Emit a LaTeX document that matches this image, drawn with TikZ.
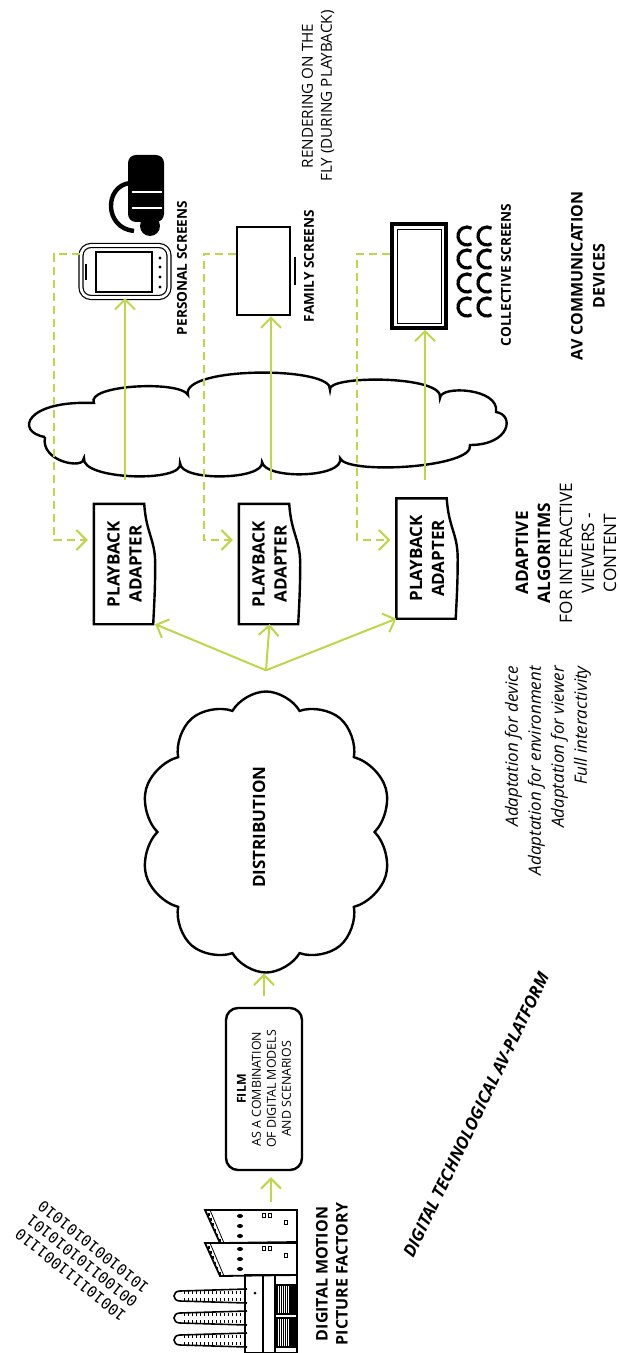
\documentclass[tikz,border=0pt]{standalone}
\usepackage{fontspec}
\setmainfont{Open Sans}
\newfontfamily\binfont{DejaVu Sans Mono}
\usetikzlibrary{arrows.meta,shapes.symbols}
\definecolor{leaf}{RGB}{190,214,72}
\begin{document}
\begin{tikzpicture}[x=.5pt,y=-.5pt,line width=1.2pt,
    flow/.style={leaf,line width=1pt,-{Straight Barb[length=5pt,width=10pt]}},
    link/.style={flow,dash pattern=on 4pt off 2.5pt},
    txt/.style={rotate=90,inner sep=0pt,font=\fontsize{7.6}{9.5}\selectfont},
    lab/.style={txt,font=\bfseries\fontsize{6.8}{8}\selectfont},
    puff/.style={cloud,draw,cloud ignores aspect,inner sep=0pt}]
  \useasboundingbox (0,0) rectangle (620,1353);
  \node[txt,align=center] (fly) at (318,96) {RENDERING ON THE\\FLY (DURING PLAYBACK)};
  \fill[rounded corners=4pt] (128,155) rectangle (164,222);
  \fill (150,226) circle[radius=10];
  \draw[line width=2.2pt] (130,183) .. controls (104,186) and (104,228) .. (134,231);
  \draw[white,line width=.6pt] (132,192) -- (162,192) (132,208) -- (162,208);
  \node[draw,line width=.6pt,double,double distance=1.4pt,rounded corners=5pt,
    minimum width=44pt,minimum height=26pt,inner sep=0pt] (ph) at (125,271.5) {};
  \draw[line width=.7pt] (96,252) rectangle (152,292);
  \draw[line width=1pt] (86,264) -- (86,280);
  \foreach \y in {258,267,277,287} \fill (160,\y) circle[radius=1.6];
  \node[draw,line width=1.4pt,minimum width=26.5pt,minimum height=44pt,inner sep=0pt] (fam) at (263.5,271) {};
  \draw[line width=.8pt] (295,257) -- (295,285);
  \node[draw,line width=1.8pt,minimum width=27pt,minimum height=52pt,inner sep=0pt] (col) at (419,276) {};
  \draw[line width=.4pt] (397,229) rectangle (441,323);
  \foreach \y in {236,259,283,307} \foreach \x in {467,487}
    \draw[line width=1.6pt] (\x+4.5,\y+7.8) arc[start angle=60,end angle=300,radius=9];
  \node[lab] (perslbl) at (182,268) {PERSONAL SCREENS};
  \node[lab] (famlbl) at (309,266) {FAMILY SCREENS};
  \node[lab] (collbl) at (506,275) {COLLECTIVE SCREENS};
  \node[txt,font=\bfseries\fontsize{8}{11}\selectfont,align=center] (avdev) at (588,276) {AV COMMUNICATION\\DEVICES};
  \draw (45,437) .. controls (15,432) and (25,400) .. (94,403)
    .. controls (85,385) and (180,380) .. (188,395)
    .. controls (180,366) and (335,366) .. (330,390)
    .. controls (325,375) and (445,375) .. (440,398)
    .. controls (440,385) and (500,388) .. (496,412)
    .. controls (515,415) and (510,445) .. (470,445)
    .. controls (475,468) and (345,475) .. (340,458)
    .. controls (345,478) and (265,480) .. (262,462)
    .. controls (265,480) and (180,482) .. (180,463)
    .. controls (185,483) and (80,480) .. (84,458)
    .. controls (85,470) and (40,462) .. (45,437);
  \node[txt,font=\bfseries\fontsize{8.5}{11}\selectfont,align=center,minimum width=59pt,minimum height=29.5pt] (ad1) at (124.5,564) {PLAYBACK\\ADAPTER};
  \node[txt,font=\bfseries\fontsize{8.5}{11}\selectfont,align=center,minimum width=59pt,minimum height=29.5pt] (ad2) at (269.5,564) {PLAYBACK\\ADAPTER};
  \node[txt,font=\bfseries\fontsize{8.5}{11}\selectfont,align=center,minimum width=59pt,minimum height=29.5pt] (ad3) at (427,558.5) {PLAYBACK\\ADAPTER};
  \foreach \a in {ad1,ad2,ad3}
    \draw (\a.north east) -- ([xshift=-5.5pt]\a.south east) .. controls +(2,30) and +(0,-25) .. (\a.south)
      .. controls +(0,25) and +(1,-20) .. ([xshift=-1pt]\a.south west) -- (\a.north west) -- cycle;
  \coordinate (s1) at (125,480);
  \coordinate (s2) at (271,480);
  \coordinate (s3) at (425,480);
  \draw[flow] (s1) -- (ph.south);
  \draw[flow] (s2) -- (s2 |- fam.south);
  \draw[flow] (s3) -- (s3 |- col.south);
  \coordinate (k1) at (54,540);
  \coordinate (k2) at (204,540);
  \coordinate (k3) at (357,540);
  \draw[link,shorten >=3pt] ([yshift=8.75pt]ph.west) -| (k1) -- (k1 -| ad1.north);
  \draw[link,shorten >=3pt] ([yshift=8.5pt]fam.west) -| (k2) -- (k2 -| ad2.north);
  \draw[link,shorten >=3pt] ([yshift=11pt]col.west) -| (k3) -- (k3 -| ad3.north);
  \node[puff,cloud puffs=10,cloud puff arc=120,minimum width=126pt,minimum height=140.5pt] (dist) at (266,832) {};
  \node[txt,font=\bfseries\fontsize{8.5}{10}\selectfont] (distlbl) at (259,827) {DISTRIBUTION};
  \coordinate (fork) at ([yshift=10pt]dist.north);
  \draw[flow] (fork) -- (ad1.south west);
  \draw[flow] (fork) -- (ad2.west);
  \draw[flow] (fork) -- (ad3.north west);
  \node[txt,font=\itshape\fontsize{8.5}{11.5}\selectfont,align=right,anchor=east] (modes) at (548,665)
    {Adaptation for device\\Adaptation for environment\\Adaptation for viewer\\Full interactivity};
  \node[txt,font=\fontsize{8.6}{11}\selectfont,align=center] (algo) at (566,553)
    {\textbf{ADAPTIVE}\\\textbf{ALGORITMS}\\FOR INTERACTIVE\\VIEWERS -\\CONTENT};
  \node[txt,draw,rounded corners=6pt,minimum width=81pt,minimum height=38pt,
    font=\fontsize{6.2}{7.5}\selectfont,align=center] (film) at (264,1089)
    {\textbf{FILM}\\AS A COMBINATION\\OF DIGITAL MODELS\\AND SCENARIOS};
  \draw[flow,shorten <=5.5pt] (film.east) -- (film.east |- dist.south);
  \coordinate (f0) at (271,1202);
  \draw[flow,shorten >=3pt] (f0) -- (f0 |- film.west);
  \foreach \y in {1296,1318,1340} {
    \draw[line width=.8pt] (247,\y-7) -- (180,\y-5) .. controls (172,\y-5) and (172,\y+5) .. (180,\y+5) -- (247,\y+7);
    \foreach \x in {184,188,...,244} \draw[line width=.3pt] (\x,\y-5) -- (\x,\y-2) (\x,\y+2) -- (\x,\y+5);
  }
  \foreach \dy in {0,33} {
    \draw[line width=.9pt] (205,1210+\dy) -- (297,1210+\dy) -- (297,1242+\dy) -- (220,1243+\dy) -- cycle;
    \draw[line width=.4pt] (210,1210+\dy) -- (224,1243+\dy);
    \foreach \i in {0,...,5} \fill ({207.5+2.2*\i},{1213+\dy+5.2*\i}) rectangle +(2,2.5);
    \foreach \k in {0,1,2} \fill (240,{1216+\dy+10*\k}) ellipse[x radius=3,y radius=2];
    \draw[line width=.4pt] (262,1213+\dy) rectangle +(3,4) (268,1213+\dy) rectangle +(3,4) (284,1220+\dy) rectangle +(3,4);
  }
  \draw[line width=.9pt] (245,1275) rectangle (297,1353);
  \draw[line width=.6pt] (263,1275) -- (263,1353) (275,1275) -- (275,1353);
  \fill (255,1293) circle[radius=1.5];
  \foreach \y in {1285,1318} {
    \draw[line width=.6pt] (277,\y) rectangle (297,\y+29);
    \fill (290,\y) rectangle (297,\y+29);
    \foreach \x in {279,281,...,289} \draw[line width=.3pt] (\x,\y+1) -- (\x,\y+28);
  }
  \node[txt,font=\bfseries\fontsize{8}{10}\selectfont,align=center] (faclbl) at (332,1274) {DIGITAL MOTION\\PICTURE FACTORY};
  \node[font=\binfont\fontsize{7.6}{9}\selectfont,rotate=141,align=left,inner sep=0pt] (bits) at (82,1261)
    {100101111001110\\001001101010101\\101010010101010};
  \node[font=\bfseries\itshape\fontsize{8.5}{10}\selectfont,rotate=64.2] (platform) at (476,1115) {DIGITAL TECHNOLOGICAL AV-PLATFORM};
\end{tikzpicture}
\end{document}
